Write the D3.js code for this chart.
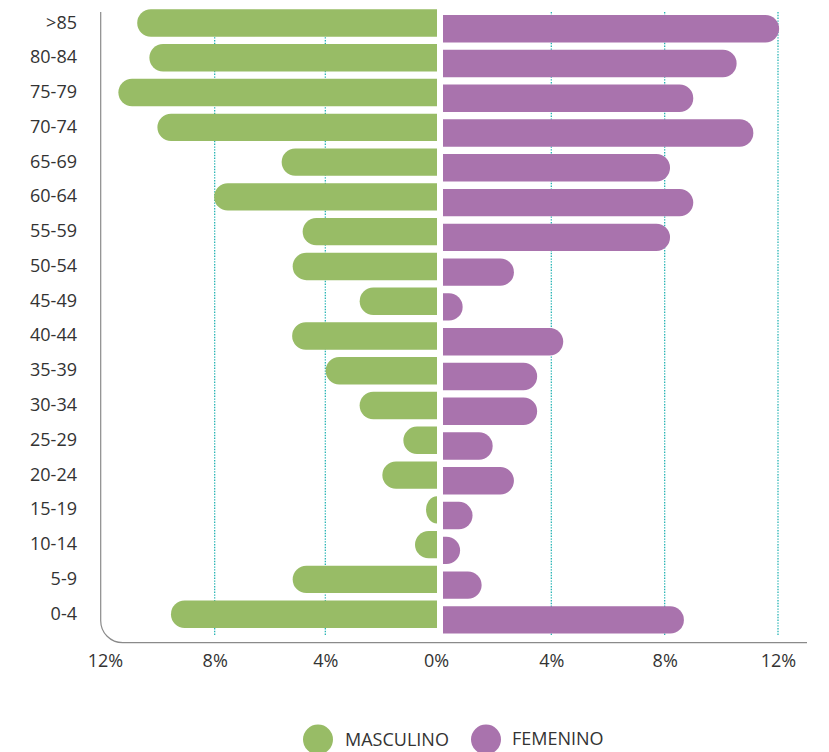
<!DOCTYPE html>
<html>
<head>
<meta charset="utf-8">
<script src="https://cdn.jsdelivr.net/npm/d3@7"></script>
<style>
  html, body { margin: 0; padding: 0; background: #fff; }
  svg { display: block; font-family: "Open Sans", "Noto Sans", sans-serif; }
</style>
</head>
<body>
<svg id="chart" width="829" height="752"></svg>
<script>
// ---- data ----
const categories = [">85","80-84","75-79","70-74","65-69","60-64","55-59","50-54","45-49",
                    "40-44","35-39","30-34","25-29","20-24","15-19","10-14","5-9","0-4"];
const masculino = [10.8,10.36,11.48,10.07,5.58,8.02,4.82,5.18,2.76,
                   5.2,3.99,2.76,1.18,1.94,0.36,0.76,5.18,9.58];
const femenino  = [12.04,10.54,9.01,11.13,8.19,9.01,8.19,2.68,0.87,
                   4.42,3.5,3.5,1.93,2.68,1.22,0.78,1.54,8.68];
const leftTicks = [12, 8, 4, 0];
const rightTicks = [4, 8, 12];
const leftGrid = [4, 8];
const rightGrid = [4, 8, 12];
const seriesNames = ["MASCULINO", "FEMENINO"];
const colors = ["#98bc66", "#a973ad"];

// ---- scales ----
const svg = d3.select("#chart");
const xL = d3.scaleLinear().domain([0, 12]).range([436, 104]);
const xR = d3.scaleLinear().domain([0, 12]).range([438, 778]);
const y = d3.scalePoint().domain(categories).range([23, 614.2]);
const barH = 27.4;
const femShift = 5.7;
const femGap = 5;
const gridTop = 12, gridBottom = 635;
const gridColor = "#27b4b4";

// ---- gridlines ----
const g = svg.append("g");
g.selectAll("line.gl").data(leftGrid).join("line")
  .attr("x1", d => xL(d)).attr("x2", d => xL(d))
  .attr("y1", gridTop).attr("y2", gridBottom)
  .attr("stroke", gridColor).attr("stroke-width", 1.3)
  .attr("stroke-dasharray", "1.4,1.4");
g.selectAll("line.gr").data(rightGrid).join("line")
  .attr("x1", d => xR(d)).attr("x2", d => xR(d))
  .attr("y1", gridTop).attr("y2", gridBottom)
  .attr("stroke", gridColor).attr("stroke-width", 1.3)
  .attr("stroke-dasharray", "1.4,1.4");

// ---- bars ----
function leftBar(x0, x1, yt, h) {
  const r = Math.min(h / 2, x0 - x1);
  return `M${x0},${yt} H${x1 + r} A${r},${h/2} 0 0 0 ${x1 + r},${yt + h} H${x0} Z`;
}
function rightBar(x0, x1, yt, h) {
  const r = Math.min(h / 2, x1 - x0);
  return `M${x0},${yt} H${x1 - r} A${r},${h/2} 0 0 1 ${x1 - r},${yt + h} H${x0} Z`;
}
svg.append("g").selectAll("path").data(categories).join("path")
  .attr("d", (c, i) => leftBar(xL(0) + 1, xL(masculino[i]), y(c) - barH / 2, barH))
  .attr("fill", colors[0]);
svg.append("g").selectAll("path").data(categories).join("path")
  .attr("d", (c, i) => rightBar(xR(0) + femGap, xR(femenino[i]), y(c) - barH / 2 + femShift, barH))
  .attr("fill", colors[1]);

// ---- category labels ----
svg.append("g").selectAll("text").data(categories).join("text")
  .attr("x", 77).attr("y", c => y(c) + 5.5)
  .attr("text-anchor", "end")
  .attr("font-size", 18).attr("fill", "#333")
  .text(c => c);

// ---- axis line with rounded corner ----
const ax = 100.7, ay = 642.7, rr = 22;
svg.append("path")
  .attr("d", `M${ax},12 V${ay - rr} A${rr},${rr} 0 0 0 ${ax + rr},${ay} H807`)
  .attr("fill", "none").attr("stroke", "#8a8a8a").attr("stroke-width", 1.2);

// ---- tick labels via d3 axes ----
const axL = svg.append("g").attr("transform", `translate(0,${ay})`)
  .call(d3.axisBottom(xL).tickValues(leftTicks).tickSize(0).tickPadding(0).tickFormat(d => d + "%"));
const axR = svg.append("g").attr("transform", `translate(0,${ay})`)
  .call(d3.axisBottom(xR).tickValues(rightTicks).tickSize(0).tickPadding(0).tickFormat(d => d + "%"));
[axL, axR].forEach(a => {
  a.select(".domain").remove();
  a.selectAll("text")
    .attr("font-size", 18).attr("font-family", "Open Sans, Noto Sans, sans-serif")
    .attr("fill", "#333").attr("dy", null).attr("y", 24.5);
});
axL.selectAll(".tick").filter(d => d === 12).select("text").attr("dx", 1);

// ---- legend ----
const legend = svg.append("g");
const legX = [318, 486];
const legTextX = [345, 512];
seriesNames.forEach((name, i) => {
  legend.append("circle").attr("cx", legX[i]).attr("cy", 739.5).attr("r", 15).attr("fill", colors[i]);
  legend.append("text").attr("x", legTextX[i]).attr("y", 746 - i * 1.5)
    .attr("font-size", 18).attr("fill", "#333").text(name);
});
</script>
</body>
</html>
